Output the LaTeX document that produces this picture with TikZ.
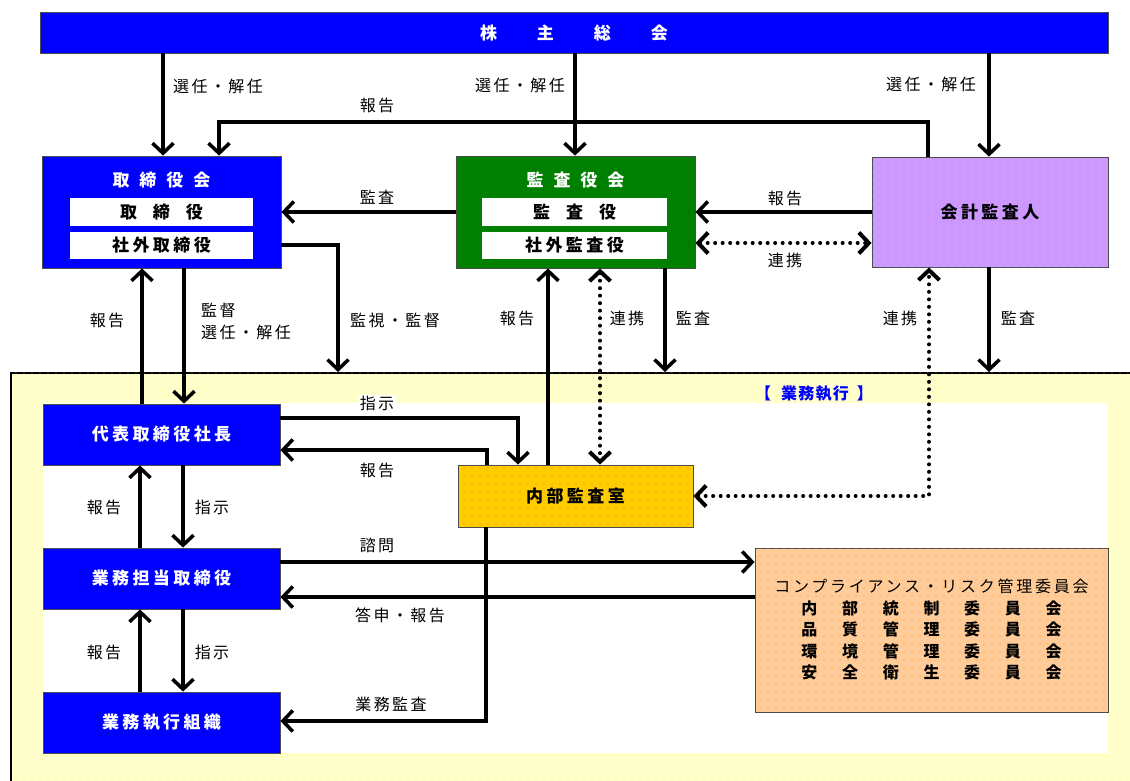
\documentclass[tikz,border=0pt]{standalone}
\usepackage{fontspec}
\setmainfont{Noto Sans CJK JP}
\usetikzlibrary{arrows.meta,patterns.meta}
\definecolor{cblue}{RGB}{0,0,255}
\definecolor{cgreen}{RGB}{0,128,0}
\definecolor{cviolet}{RGB}{204,153,255}
\definecolor{cgold}{RGB}{255,204,0}
\definecolor{cpeach}{RGB}{255,204,153}
\definecolor{cyellow}{RGB}{255,255,204}
\newcommand\lblfont{\fontsize{16pt}{18pt}\selectfont\addfontfeature{LetterSpace=15}}
\newcommand\boxfont{\fontsize{17pt}{19pt}\selectfont\bfseries\addfontfeature{LetterSpace=20}}
\newcommand\cml[7]{\makebox[40.7pt]{#1}\makebox[40.7pt]{#2}\makebox[40.7pt]{#3}\makebox[40.7pt]{#4}\makebox[40.7pt]{#5}\makebox[40.7pt]{#6}\makebox[40.7pt]{#7}}
\tikzset{
  box/.style={draw=black!70, line width=0.8pt, inner sep=0pt, font=\boxfont},
  bluebox/.style={box, fill=cblue, text=white},
  innerbox/.style={fill=white, draw=none, inner sep=0pt, font=\boxfont, text=black},
  dotfill/.style={postaction={pattern color=#1, pattern={Dots[distance=8pt,radius=0.7pt]}}},
  lbl/.style={font=\lblfont, inner sep=1pt, text=black},
  tipb/.tip={Straight Barb[length=10pt,width=21pt]},
  arr/.style={line width=3.5pt, -tipb},
  dotline/.style={line width=4pt, dash pattern=on 0pt off 7.5pt, line cap=round, tipb-tipb},
}
\begin{document}
\begin{tikzpicture}[x=1pt,y=-1pt]
\useasboundingbox (0,0) rectangle (1130,780);
\fill[white] (0,0) rectangle (1130,780);

% execution region
\node[draw=black, line width=1.5pt, fill=cyellow, dotfill={yellow!60!orange!50}, minimum width=1140pt, minimum height=420pt, anchor=north west, inner sep=0pt] (region) at (10,372) {};
\node[fill=white, minimum width=1065pt, minimum height=350pt, anchor=north west, inner sep=0pt] (wa) at (43,403) {};
\node[font=\fontsize{16pt}{18pt}\selectfont\bfseries\addfontfeature{LetterSpace=8}, text=cblue] (regt) at (814,394) {【\hspace{10pt}業務執行\hspace{8pt}】};

% top
\node[bluebox, minimum width=1068pt, minimum height=41pt] (gm) at (574,32.5) {株\hspace{40pt}主\hspace{40pt}総\hspace{40pt}会};

% board
\node[bluebox, minimum width=239pt, minimum height=112pt] (board) at (161.5,212) {};
\node[text=white, font=\boxfont] (boardt) at (161.5,180) {取\hspace{10pt}締\hspace{10pt}役\hspace{10pt}会};
\node[innerbox, minimum width=183pt, minimum height=28pt] (bd1) at (161.5,212) {取\hspace{16pt}締\hspace{16pt}役};
\node[innerbox, minimum width=183pt, minimum height=27pt] (bd2) at (161.5,245.5) {社外取締役};

% kansayaku
\node[box, fill=cgreen, dotfill={black!60!green}, minimum width=239pt, minimum height=112pt] (kansa) at (575.5,212) {};
\node[text=white, font=\boxfont] (kansat) at (575.5,180) {監\hspace{10pt}査\hspace{10pt}役\hspace{10pt}会};
\node[innerbox, minimum width=185pt, minimum height=28pt] (ks1) at (574.5,212) {監\hspace{16pt}査\hspace{16pt}役};
\node[innerbox, minimum width=185pt, minimum height=27pt] (ks2) at (574.5,245.5) {社外監査役};

% auditor
\node[box, fill=cviolet, dotfill={magenta!70}, minimum width=236pt, minimum height=110pt] (aud) at (990,212) {会計監査人};

% execution boxes
\node[bluebox, minimum width=237pt, minimum height=61pt] (pres) at (161.5,434.5) {代表取締役社長};
\node[bluebox, minimum width=237pt, minimum height=61pt] (exec) at (161.5,578.5) {業務担当取締役};
\node[bluebox, minimum width=237pt, minimum height=61pt] (org) at (161.5,722.5) {業務執行組織};
\node[box, fill=cgold, dotfill={red!60}, minimum width=235pt, minimum height=62pt] (ia) at (575.5,496) {内部監査室};
\node[box, fill=cpeach, dotfill={orange!90}, minimum width=353pt, minimum height=164pt, align=center, font=\fontsize{16pt}{21.5pt}\selectfont] (comp) at (931.5,630)
 {{\addfontfeature{LetterSpace=17}コンプライアンス・リスク管理委員会}\\
  {\bfseries\cml{内}{部}{統}{制}{委}{員}{会}}\\
  {\bfseries\cml{品}{質}{管}{理}{委}{員}{会}}\\
  {\bfseries\cml{環}{境}{管}{理}{委}{員}{会}}\\
  {\bfseries\cml{安}{全}{衛}{生}{委}{員}{会}}};

% connectors from general meeting
\draw[arr] (gm.south -| 163,0) -- (board.north -| 163,0);
\draw[arr] (gm.south -| 575,0) -- (kansa.north -| 575,0);
\draw[arr] (gm.south -| 989,0) -- (aud.north -| 989,0);
\draw[arr] (aud.north -| 928,0) |- (219,122) -- (board.north -| 219,0);

% horizontal upper
\draw[arr] (kansa.west) -- (board.east);
\draw[arr] (aud.west) -- (kansa.east);
\draw[dotline] (kansa.east |- 0,243) -- (aud.west |- 0,243);
\draw[arr] (board.east |- 0,245) -| (region.north -| 338,0);

% board <-> president
\draw[arr] (pres.north -| 142,0) -- (board.south -| 142,0);
\draw[arr] (board.south -| 184,0) -- (pres.north -| 184,0);

% kansa
\draw[arr] (ia.north -| 548,0) -- (kansa.south -| 548,0);
\draw[dotline] (kansa.south -| 600,0) -- (ia.north -| 600,0);
\draw[arr] (kansa.south -| 665,0) -- (region.north -| 665,0);

% auditor
\draw[arr] (aud.south -| 989,0) -- (region.north -| 989,0);
\draw[dotline] (ia.east) -| (aud.south -| 929,0);

% internal audit
\draw[arr] (pres.east |- 0,418) -| (ia.north -| 518,0);
\draw[arr] (ia.north -| 487,0) |- (pres.east |- 0,450);
\draw[arr] (ia.south -| 486,0) |- (org.east |- 0,721);

% compliance
\draw[arr] (exec.east |- 0,562) -- (comp.west |- 0,562);
\draw[arr] (comp.west |- 0,597) -- (exec.east |- 0,597);

% chain
\draw[arr] (exec.north -| 140,0) -- (pres.south -| 140,0);
\draw[arr] (pres.south -| 183,0) -- (exec.north -| 183,0);
\draw[arr] (org.north -| 140,0) -- (exec.south -| 140,0);
\draw[arr] (exec.south -| 183,0) -- (org.north -| 183,0);

% labels
\node[lbl] (l1) at (218,86) {選任・解任};
\node[lbl] (l2) at (520,85) {選任・解任};
\node[lbl] (l3) at (931,84) {選任・解任};
\node[lbl] (l4) at (377,105) {報告};
\node[lbl] (l5) at (377,197) {監査};
\node[lbl] (l6) at (785,198) {報告};
\node[lbl] (l7) at (785,260) {連携};
\node[lbl] (l8) at (107,320) {報告};
\node[lbl, anchor=west] (l9) at (200,310) {監督};
\node[lbl, anchor=west] (l10) at (200,332) {選任・解任};
\node[lbl] (l11) at (395,320) {監視・監督};
\node[lbl] (l12) at (517,318) {報告};
\node[lbl] (l13) at (627,318) {連携};
\node[lbl] (l14) at (693,318) {監査};
\node[lbl] (l15) at (900,318) {連携};
\node[lbl] (l16) at (1018,318) {監査};
\node[lbl, fill=white] (l17) at (377,403) {指示};
\node[lbl] (l18) at (377,470) {報告};
\node[lbl] (l19) at (104,507) {報告};
\node[lbl] (l20) at (212,507) {指示};
\node[lbl] (l21) at (377,545) {諮問};
\node[lbl] (l22) at (400,615) {答申・報告};
\node[lbl] (l23) at (104,652) {報告};
\node[lbl] (l24) at (212,652) {指示};
\node[lbl] (l25) at (391,704) {業務監査};
\end{tikzpicture}
\end{document}
